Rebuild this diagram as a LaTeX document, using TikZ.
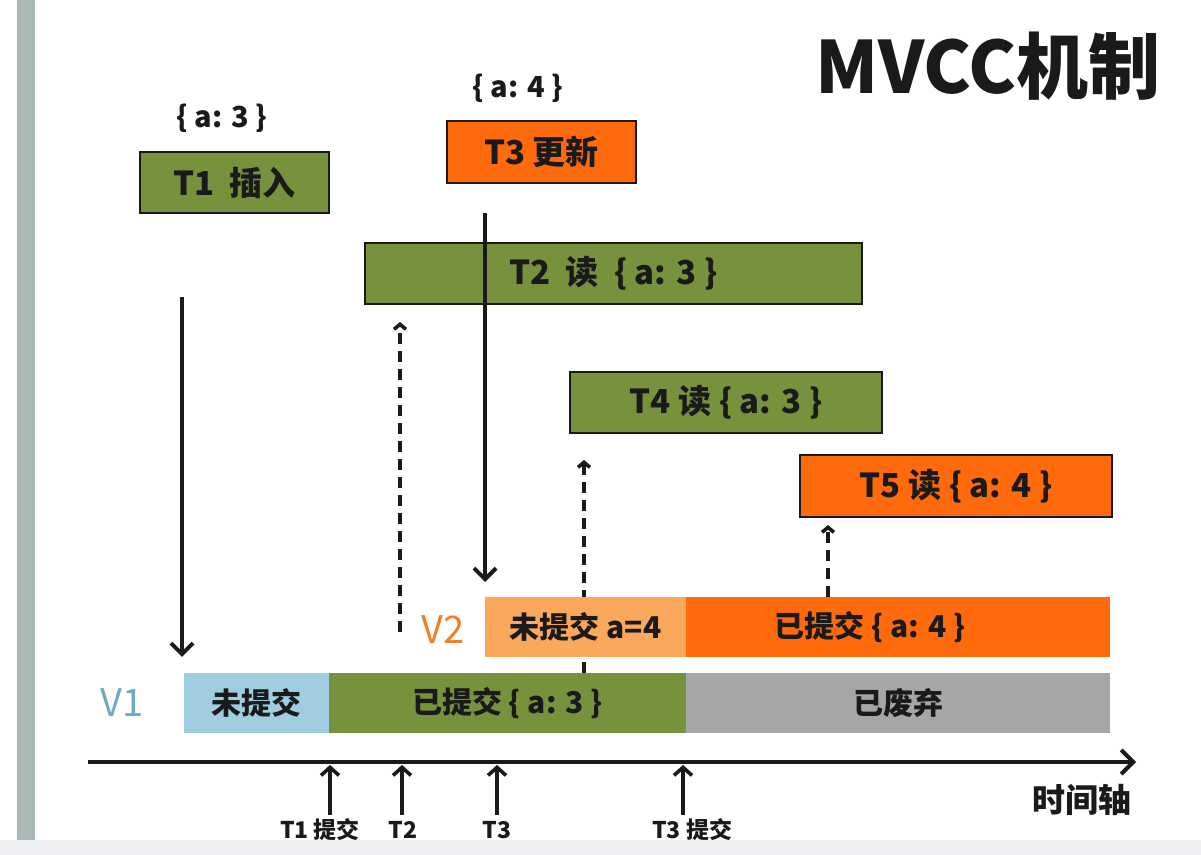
\documentclass[tikz,border=0pt]{standalone}
\usepackage{fontspec}
\setmainfont{Noto Sans CJK SC}
\usetikzlibrary{arrows.meta}
\definecolor{olive}{RGB}{118,146,60}
\definecolor{hotorange}{RGB}{255,106,12}
\definecolor{lightorange}{RGB}{250,168,92}
\definecolor{lightblue}{RGB}{160,206,224}
\definecolor{midgray}{RGB}{166,166,166}
\definecolor{vone}{RGB}{110,170,196}
\definecolor{vtwo}{RGB}{240,128,40}
\definecolor{sidebar}{RGB}{168,185,182}
\definecolor{strip}{RGB}{238,240,243}
\definecolor{ink}{RGB}{26,26,26}
\begin{document}
\begin{tikzpicture}[x=0.5pt,y=-0.5pt,
  txbox/.style={draw=ink,line width=1.2pt,inner sep=0pt,text=ink,font=\bfseries\fontsize{16.5}{19}\selectfont},
  bar/.style={inner sep=0pt,text=ink,minimum height=30pt,font=\bfseries\fontsize{15}{18}\selectfont},
  solidarrow/.style={line width=2pt,ink,-{Straight Barb[length=5.5pt,width=11pt]}},
  dasharrow/.style={line width=1.8pt,ink,dash pattern=on 5.5pt off 3.5pt,-{Straight Barb[length=2.5pt,width=6pt]}},
  tick/.style={line width=1.8pt,ink,-{Straight Barb[length=4pt,width=9pt]}},
  ticklabel/.style={font=\bfseries\fontsize{11.5}{14}\selectfont,text=ink,inner sep=0pt},
  vlabel/.style={font=\fontsize{19}{22}\selectfont,inner sep=0pt},
  valbl/.style={font=\bfseries\fontsize{14.5}{17}\selectfont,text=ink}
]
\useasboundingbox (0,0) rectangle (1201,855);
\fill[white] (0,0) rectangle (1201,855);
\fill[sidebar] (17,0) rectangle (35,840);

% title
\node[font=\bfseries\fontsize{36}{42}\selectfont,text=ink] (title) at (988,66) {MVCC机制};

% transactions
\node[valbl] (v3) at (222,118) {\{ a: 3 \}};
\node[txbox,fill=olive,minimum width=94.5pt,minimum height=30.5pt] (t1) at (234.5,182.5) {T1\ \ 插入};
\node[valbl] (v4) at (518,88) {\{ a: 4 \}};
\node[txbox,fill=hotorange,minimum width=94.5pt,minimum height=31pt] (t3) at (541.5,152) {T3\ 更新};
\node[txbox,fill=olive,minimum width=248.5pt,minimum height=30.5pt] (t2) at (613.5,273.5) {T2\ \ 读\ \ \{\ a: 3\ \}};
\node[txbox,fill=olive,minimum width=156pt,minimum height=30.5pt] (t4) at (726,402.5) {T4\ 读\ \{\ a: 3\ \}};
\node[txbox,fill=hotorange,minimum width=156pt,minimum height=31pt] (t5) at (956,486) {T5\ 读\ \{\ a: 4\ \}};

% dashed reads (behind bars)
\coordinate (d1s) at (400,632); \coordinate (d1e) at (400,322);
\coordinate (d2s) at (584,673); \coordinate (d2e) at (584,460);
\coordinate (d3s) at (828,597); \coordinate (d3e) at (828,525);
\draw[dasharrow] (d1s) -- (d1e);
\draw[dasharrow] (d2s) -- (d2e);
\draw[dasharrow] (d3s) -- (d3e);

% version bars
\node[bar,fill=lightorange,minimum width=100.5pt] (v2a) at (585.5,627) {未提交 a=4};
\node[bar,fill=hotorange,minimum width=212pt] (v2b) at (898,627) {\hspace{-28pt}已提交 \{ a: 4 \}};
\node[bar,fill=lightblue,minimum width=72.5pt] (v1a) at (256.5,703) {未提交};
\node[bar,fill=olive,minimum width=178.5pt] (v1b) at (507.5,703) {已提交 \{ a: 3 \}};
\node[bar,fill=midgray,minimum width=212pt] (v1c) at (898,703) {已废弃};
\node[vlabel,text=vtwo] (lv2) at (443,630) {V2};
\node[vlabel,text=vone] (lv1) at (122,703) {V1};

% write arrows
\coordinate (a1s) at (182,297); \coordinate (a1e) at (182,657);
\coordinate (a3s) at (485,213); \coordinate (a3e) at (485,582);
\draw[solidarrow] (a1s) -- (a1e);
\draw[solidarrow] (a3s) -- (a3e);

% time axis
\coordinate (ax0) at (88,762); \coordinate (ax1) at (1136,762);
\draw[line width=2pt,ink,-{Straight Barb[length=6pt,width=12pt]}] (ax0) -- (ax1);
\node[font=\bfseries\fontsize{16.5}{20}\selectfont,text=ink] (axl) at (1082,800) {时间轴};

\coordinate (k1s) at (330,815); \coordinate (k1e) at (330,765);
\coordinate (k2s) at (402,815); \coordinate (k2e) at (402,765);
\coordinate (k3s) at (497,815); \coordinate (k3e) at (497,765);
\coordinate (k4s) at (683,815); \coordinate (k4e) at (683,765);
\draw[tick] (k1s) -- (k1e);
\draw[tick] (k2s) -- (k2e);
\draw[tick] (k3s) -- (k3e);
\draw[tick] (k4s) -- (k4e);
\node[ticklabel] (l1) at (320,830) {T1 提交};
\node[ticklabel] (l2) at (403,830) {T2};
\node[ticklabel] (l3) at (497,830) {T3};
\node[ticklabel] (l4) at (692,830) {T3 提交};

\fill[strip] (0,840) rectangle (1201,855);
\end{tikzpicture}
\end{document}
